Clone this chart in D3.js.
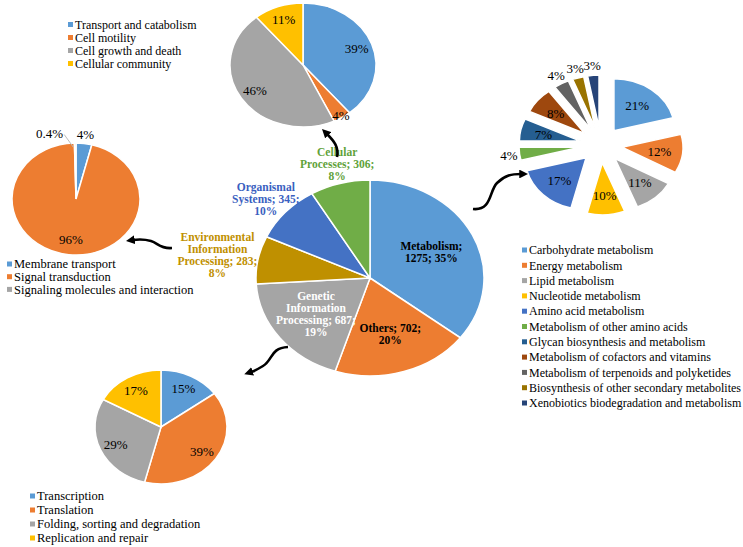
<!DOCTYPE html>
<html>
<head>
<meta charset="utf-8">
<script src="https://cdn.jsdelivr.net/npm/d3@7"></script>
<style>
  body { margin: 0; background: #fff; }
  text { font-family: "Liberation Serif", "Times New Roman", serif; }
</style>
</head>
<body>
<div id="chart"></div>
<script>
// ---- data ----
// central pie: KEGG level 1
const mainNames = ["Metabolism", "Others", "Genetic Information Processing",
  "Environmental Information Processing", "Organismal Systems", "Cellular Processes"];
const mainCounts = [1275, 702, 687, 283, 345, 306];
const mainPcts = [35, 20, 19, 8, 10, 8];
// label text as it is wrapped on the chart
const mainLabels = ["Metabolism;\n1275; 35%", "Others; 702;\n20%",
  "Genetic\nInformation\nProcessing; 687;\n19%", "Environmental\nInformation\nProcessing; 283;\n8%",
  "Organismal\nSystems; 345;\n10%", "Cellular\nProcesses; 306;\n8%"];

// cellular processes
const cellNames = ["Transport and catabolism", "Cell motility", "Cell growth and death", "Cellular community"];
const cellPcts = [39, 4, 46, 11];

// environmental information processing
const envNames = ["Membrane transport", "Signal transduction", "Signaling molecules and interaction"];
const envPcts = [4, 96, 0.4];

// genetic information processing
const genNames = ["Transcription", "Translation", "Folding, sorting and degradation", "Replication and repair"];
const genPcts = [15, 39, 29, 17];

// metabolism
const metNames = ["Carbohydrate metabolism", "Energy metabolism", "Lipid metabolism", "Nucleotide metabolism",
  "Amino acid metabolism", "Metabolism of other amino acids", "Glycan biosynthesis and metabolism",
  "Metabolism of cofactors and vitamins", "Metabolism of terpenoids and polyketides",
  "Biosynthesis of other secondary metabolites", "Xenobiotics biodegradation and metabolism"];
const metPcts = [21, 12, 11, 10, 17, 4, 7, 8, 4, 3, 3];

// ---- styles ----
const office = ["#5B9BD5", "#ED7D31", "#A5A5A5", "#FFC000", "#4472C4", "#70AD47",
  "#255E91", "#9E480E", "#636363", "#997300", "#264478"];
const mainColors = ["#5B9BD5", "#ED7D31", "#A5A5A5", "#BF9000", "#4472C4", "#70AD47"];
const mainTextColors = ["#000", "#000", "#fff", "#BF9000", "#3A5FC0", "#5FA23A"];

const W = 743, H = 547;
const svg = d3.select("#chart").append("svg")
  .attr("width", W).attr("height", H)
  .attr("viewBox", `0 0 ${W} ${H}`);

const pieGen = d3.pie().sort(null).value(d => d);

// place a block of text so its centre is at (x,y)
const textBlock = function(g, lines, x, y, opt) {
  const t = g.append("text")
    .attr("text-anchor", "middle")
    .attr("font-size", opt.size)
    .attr("font-weight", opt.weight || "normal")
    .attr("fill", opt.color || "#000");
  const lh = opt.lh || opt.size * 1.0;
  lines.forEach((ln, i) => {
    t.append("tspan").attr("x", x)
      .attr("y", y + (i - (lines.length - 1) / 2) * lh)
      .attr("dy", "0.35em")
      .text(ln);
  });
  return t;
}

const drawPie = function(cfg) {
  const arcs = pieGen(cfg.values);
  const sx = cfg.rx / cfg.ry;
  const g = svg.append("g");
  const sg = g.append("g").attr("transform", `translate(${cfg.cx},${cfg.cy}) scale(${sx},1)`);
  const arc = d3.arc().innerRadius(0).outerRadius(cfg.ry);
  const ex = cfg.explode || 0;

  sg.selectAll("path").data(arcs).join("path")
    .attr("d", arc)
    .attr("transform", d => {
      const a = (d.startAngle + d.endAngle) / 2;
      return `translate(${Math.sin(a) * ex},${-Math.cos(a) * ex})`;
    })
    .attr("fill", (d, i) => cfg.colors[i])
    .attr("stroke", "#fff")
    .attr("stroke-width", 1.5)
    .attr("vector-effect", "non-scaling-stroke");

  arcs.forEach((d, i) => {
    const a = (d.startAngle + d.endAngle) / 2;
    const s = Math.sin(a), c = Math.cos(a);
    const ox = cfg.cx + s * ex * sx, oy = cfg.cy - c * ex;
    const lines = cfg.labels[i].split("\n");
    const opt = {size: cfg.fontSize, weight: cfg.weight, color: cfg.textColors ? cfg.textColors[i] : "#000", lh: cfg.lh};
    const small = d.data < cfg.smallBelow;
    if (!small) {
      textBlock(g, lines, ox + s * cfg.rx * cfg.inside, oy - c * cfg.ry * cfg.inside, opt);
    } else if (cfg.smallMode === "edge") {
      textBlock(g, lines, ox + s * cfg.rx * cfg.edge, oy - c * cfg.ry * cfg.edge, opt);
    } else {
      // outside: push the block out so its near side touches the rim
      const px = ox + s * cfg.rx, py = oy - c * cfg.ry;
      const t = textBlock(g, lines, px, py, opt);
      const bb = t.node().getBBox();
      const hs = cfg.softSide ? s * Math.abs(s) : s;
      let nx = px + hs * (bb.width / 2 + 2), ny = py - c * (bb.height / 2 + 2);
      if (d.data < 1) {
        // tiny slice: move the label aside and draw a leader line
        nx = px - bb.width / 2 - 12;
        g.append("line")
          .attr("x1", nx + bb.width / 2 + 1).attr("y1", ny + 1)
          .attr("x2", px - 2).attr("y2", py + 4)
          .attr("stroke", "#bbb").attr("stroke-width", 1);
      }
      t.remove();
      textBlock(g, lines, nx, ny, opt);
    }
  });
}

const drawLegend = function(x, y, step, names, colors, size) {
  const g = svg.append("g");
  names.forEach((n, i) => {
    g.append("rect")
      .attr("x", x).attr("y", y + i * step - 2.5)
      .attr("width", 5).attr("height", 5)
      .attr("fill", colors[i]);
    g.append("text")
      .attr("x", x + 7).attr("y", y + i * step)
      .attr("dy", "0.35em")
      .attr("font-size", size)
      .text(n);
  });
}

const pctLabel = v => v + "%";

// ---- pies ----
drawPie({cx: 370, cy: 278, rx: 114, ry: 98, values: mainCounts, colors: mainColors,
  labels: mainLabels, textColors: mainTextColors, fontSize: 11.5, weight: "bold", lh: 12,
  inside: 0.6, smallBelow: 400, smallMode: "outside", softSide: true});

drawPie({cx: 303, cy: 65, rx: 73, ry: 62, values: cellPcts, colors: office.slice(0, 4),
  labels: cellPcts.map(pctLabel), fontSize: 13, inside: 0.78, edge: 0.97,
  smallBelow: 5, smallMode: "edge"});

drawPie({cx: 76, cy: 199, rx: 64, ry: 56, values: envPcts, colors: office.slice(0, 3),
  labels: envPcts.map(pctLabel), fontSize: 13, inside: 0.72,
  smallBelow: 5, smallMode: "outside"});

drawPie({cx: 161, cy: 427, rx: 66, ry: 57, values: genPcts, colors: office.slice(0, 4),
  labels: genPcts.map(pctLabel), fontSize: 13, inside: 0.75,
  smallBelow: 5, smallMode: "outside"});

drawPie({cx: 601, cy: 145, rx: 61, ry: 52, values: metPcts, colors: office,
  labels: metPcts.map(pctLabel), fontSize: 13, inside: 0.62, explode: 18,
  smallBelow: 5, smallMode: "outside"});

// ---- legends ----
drawLegend(68, 24.5, 13, cellNames, office, 12);
drawLegend(7, 264, 12.7, envNames, office, 12.5);
drawLegend(30, 496, 14, genNames, office, 12.5);
drawLegend(522, 250, 15.3, metNames, office, 12);

// ---- connecting arrows ----
const arrows = [
  "M337,157 C339,147 334,141 327,134",
  "M473,209 C492,211 489,191 497,183 S512,174 521,174",
  "M172,248 C160,249 158,243 151,241 S140,239 133,240",
  "M288,347 C270,348 273,360 263,366 S254,371 251,372"
];
svg.append("defs").append("marker")
  .attr("id", "head")
  .attr("viewBox", "0 0 10 10")
  .attr("refX", 2).attr("refY", 5)
  .attr("markerWidth", 3.4).attr("markerHeight", 3.4)
  .attr("orient", "auto")
  .append("path").attr("d", "M0,0 L10,5 L0,10 z").attr("fill", "#000");

svg.append("g").selectAll("path").data(arrows).join("path")
  .attr("d", d => d)
  .attr("fill", "none")
  .attr("stroke", "#000")
  .attr("stroke-width", 2.6)
  .attr("marker-end", "url(#head)");
</script>
</body>
</html>
